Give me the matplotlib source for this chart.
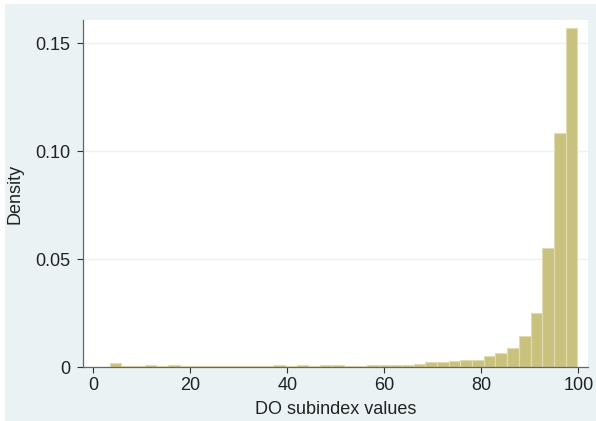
import matplotlib
matplotlib.use("Agg")
import matplotlib.pyplot as plt
from matplotlib.patches import Rectangle
import numpy as np

plt.rcParams['font.family'] = ['Liberation Sans', 'DejaVu Sans']

# histogram bins (40 bins of equal width) and density per bin
bin_start = 3.4
bin_width = 2.41
density = [
    0.0020, 0.0006, 0.0006, 0.0010, 0.0006, 0.0010, 0.0005, 0.0005,
    0.0005, 0.0005, 0.0005, 0.0005, 0.0005, 0.0005, 0.0008, 0.0006,
    0.0010, 0.0006, 0.0007, 0.0007, 0.0006, 0.0006, 0.0008, 0.0009,
    0.0008, 0.0009, 0.0016, 0.0021, 0.0021, 0.0026, 0.0032, 0.0033,
    0.0053, 0.0063, 0.0087, 0.0142, 0.0252, 0.0553, 0.1086, 0.1570,
]
xticks = [0, 20, 40, 60, 80, 100]
yticks = [0, 0.05, 0.10, 0.15]
ytick_labels = ["0", "0.05", "0.10", "0.15"]

W, H = 596, 421
fig = plt.figure(figsize=(W / 100, H / 100), dpi=100, facecolor='white')

# light blue graph region behind the plot
fig.patches.append(Rectangle((5 / W, 0), 1 - 5 / W, (H - 4) / H,
                             transform=fig.transFigure, facecolor='#eaf2f3',
                             edgecolor='none', zorder=-10))

ax = fig.add_axes([83 / W, (H - 367) / H, (588 - 83) / W, (367 - 20) / H])
ax.set_facecolor('white')

lefts = bin_start + bin_width * np.arange(len(density))
ax.bar(lefts, density, width=bin_width, align='edge',
       facecolor='#c9c27f', edgecolor='#e0dbb0', linewidth=0.8, zorder=2)

ax.set_xlim(-2.1, 102.0)
ax.set_ylim(0, 0.1608)

ax.set_yticks(yticks)
ax.set_yticklabels(ytick_labels)
ax.set_xticks(xticks)
ax.yaxis.grid(True, color='#eaf2f3', linewidth=1.0, zorder=0)
ax.set_axisbelow(True)

for side in ['top', 'right']:
    ax.spines[side].set_visible(False)
for side in ['left', 'bottom']:
    ax.spines[side].set_color('#666666')
    ax.spines[side].set_linewidth(0.9)
    ax.spines[side].set_zorder(3)

ax.tick_params(axis='both', direction='out', length=4, width=0.8,
               color='#333333', labelsize=13, labelcolor='#222222')
ax.tick_params(axis='y', pad=5)
ax.tick_params(axis='x', pad=3)

ax.set_xlabel("DO subindex values", fontsize=13, color='#222222')
ax.set_ylabel("Density", fontsize=13, color='#222222')
ax.xaxis.set_label_coords(0.5, -0.097)
ax.yaxis.set_label_coords(-0.117, 0.5)

fig.savefig("out.png", dpi=100, facecolor=fig.get_facecolor())
